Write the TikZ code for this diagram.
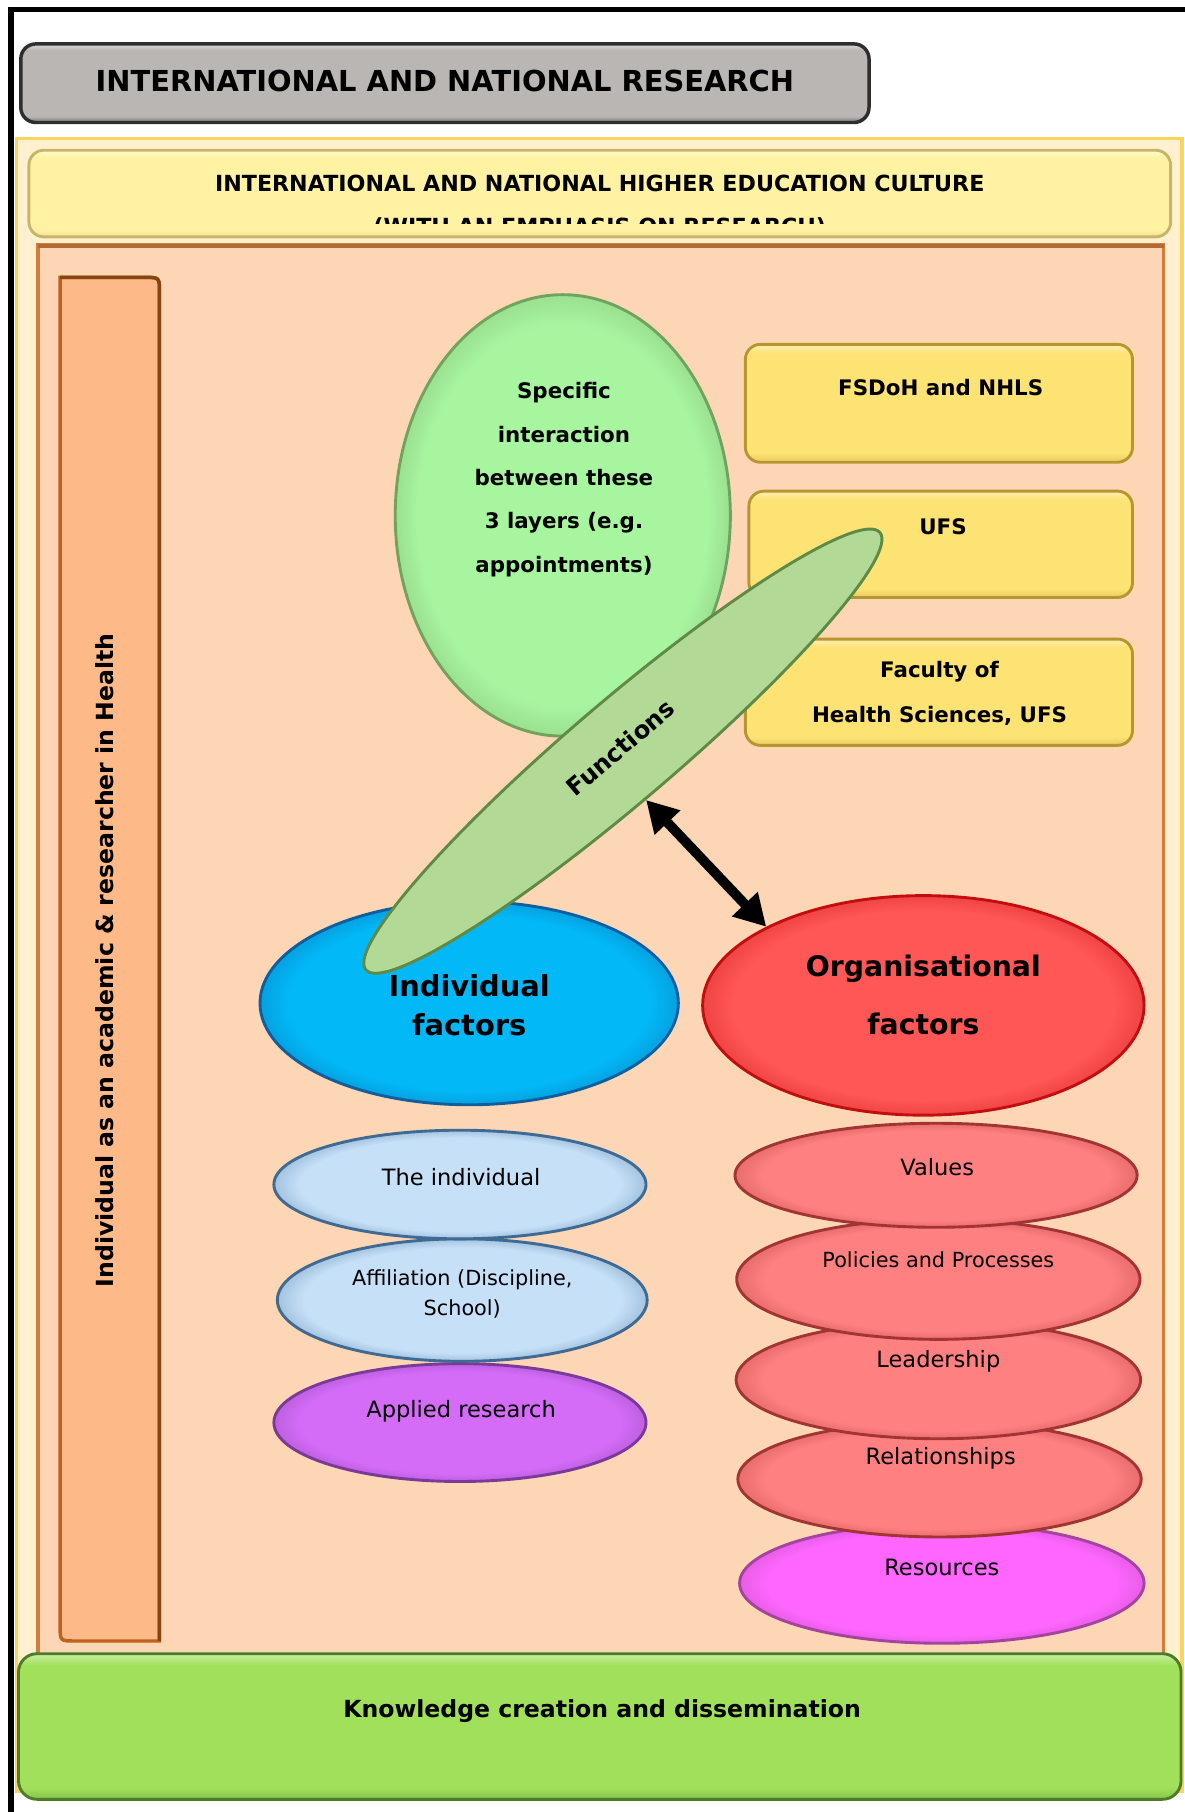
\documentclass[tikz,border=0pt]{standalone}
\usepackage{fontspec}
\setmainfont{DejaVu Sans}
\usetikzlibrary{shapes.geometric,arrows.meta}

\definecolor{graybox}{HTML}{B9B6B4}
\definecolor{grayedge}{HTML}{2E2E2E}
\definecolor{creamfill}{HTML}{FFF1CF}
\definecolor{creamedge}{HTML}{FAD45E}
\definecolor{headfill}{HTML}{FFF3A3}
\definecolor{headedge}{HTML}{C9B56A}
\definecolor{peachfill}{HTML}{FDD6B5}
\definecolor{peachedge}{HTML}{D47C3C}
\definecolor{barfill}{HTML}{FEB988}
\definecolor{baredge}{HTML}{C0621E}
\definecolor{boxfill}{HTML}{FDE274}
\definecolor{boxedge}{HTML}{B8962E}
\definecolor{mintfill}{HTML}{A8F5A0}
\definecolor{mintedge}{HTML}{6FA35E}
\definecolor{leaffill}{HTML}{B2D996}
\definecolor{leafedge}{HTML}{5F8A45}
\definecolor{bluefill}{HTML}{02B8F7}
\definecolor{blueedge}{HTML}{0F5E9E}
\definecolor{redfill}{HTML}{FF5656}
\definecolor{rededge}{HTML}{C20E0E}
\definecolor{skyfill}{HTML}{C6E0F8}
\definecolor{skyedge}{HTML}{3E6A93}
\definecolor{violetfill}{HTML}{D46CF8}
\definecolor{violetedge}{HTML}{7B3A99}
\definecolor{rosefill}{HTML}{FF8080}
\definecolor{roseedge}{HTML}{A33434}
\definecolor{pinkfill}{HTML}{FF66FF}
\definecolor{pinkedge}{HTML}{A3449F}
\definecolor{grassfill}{HTML}{A0E05A}
\definecolor{grassedge}{HTML}{4C7C2A}

% colours used by the bevel shadings; set per shape
\colorlet{bevelin}{white}
\colorlet{bevelout}{black}
\colorlet{bevelhi}{white}

% flat centre with a darker rim, for the ovals
\pgfdeclareradialshading[bevelin,bevelout]{ovalbevel}{\pgfpoint{0bp}{0bp}}%
  {color(0bp)=(bevelin); color(21.5bp)=(bevelin); color(25bp)=(bevelout); color(50bp)=(bevelout)}
% flat centre with a lighter top and darker bottom, for the plates
\pgfdeclareverticalshading[bevelin,bevelout,bevelhi]{platebevel}{100bp}%
  {color(0bp)=(bevelout); color(25bp)=(bevelout); color(29bp)=(bevelin);
   color(71bp)=(bevelin); color(75bp)=(bevelhi); color(100bp)=(bevelhi)}

\newcommand{\fs}[2]{\fontsize{#1}{#2}\selectfont}

\tikzset{
  ovalshade/.code 2 args={\colorlet{bevelin}{#1}\colorlet{bevelout}{#2}},
  plateshade/.code n args={3}{\colorlet{bevelin}{#1}\colorlet{bevelout}{#2}\colorlet{bevelhi}{#3}},
  plate/.style={rounded corners=13pt, line width=2.5pt, inner sep=0pt,
    shade, shading=platebevel},
  oval/.style={ellipse, inner sep=0pt, line width=2.5pt, shade, shading=ovalbevel},
  txt/.style={inner sep=0pt, align=center},
  boldtxt/.style={txt, font=\fs{18.5}{22}\bfseries},
  plaintxt/.style={txt, font=\fs{19.5}{26}},
  sky/.style={oval, draw=skyedge, ovalshade={skyfill}{skyfill!75!skyedge}},
  rose/.style={oval, draw=roseedge, ovalshade={rosefill}{rosefill!75!roseedge}},
  yellowplate/.style={plate, draw=boxedge, plateshade={boxfill}{boxfill!70!boxedge}{boxfill!55!white}},
  twoway/.style={line width=8.5pt,
    {Triangle[length=27pt,width=29pt]}-{Triangle[length=27pt,width=29pt]}},
}

\begin{document}
\begin{tikzpicture}[x=1pt,y=-1pt]
\useasboundingbox (0,0) rectangle (1025,1568);
\fill[white] (0,0) rectangle (1025,1568);

% outer frame
\draw[line width=4.5pt] (1025,8.5) -- (9.5,8.5) -- (9.5,1568);

% research banner
\node[plate, draw=grayedge, plateshade={graybox}{graybox!65!black}{graybox!50!white},
      line width=3pt, minimum width=734pt, minimum height=68pt] (research) at (385,72) {};
\node[txt, font=\fs{25}{30}\bfseries] (researchtext) at (385,70)
  {INTERNATIONAL AND NATIONAL RESEARCH};

% higher education culture layer
\draw[draw=creamedge, fill=creamfill, line width=3pt] (14.5,120) rectangle (1023,1550);
\node[plate, draw=headedge, plateshade={headfill}{headfill!70!headedge}{headfill!50!white},
      minimum width=988pt, minimum height=75pt] (culture) at (519,167.5) {};
\node[txt, anchor=base, font=\fs{19.2}{23}\bfseries] (culturetext) at (519,166)
  {INTERNATIONAL AND NATIONAL HIGHER EDUCATION CULTURE};
\begin{scope}
  \clip (30,130) rectangle (1010,193);
  \node[txt, anchor=base, font=\fs{19.2}{23}\bfseries] (emphasistext) at (519,202.5)
    {(WITH AN EMPHASIS ON RESEARCH)};
\end{scope}

% institutional layer
\draw[draw=peachedge, fill=peachfill, line width=3pt] (33,212) rectangle (1007,1440);
\draw[draw=peachedge!85!black, line width=4pt] (33,213) -- (1007,213);

% vertical bar: the individual
\draw[draw=baredge, fill=barfill, line width=3pt]
  (52,240) -- (125,240) .. controls (138,240) .. (138,253) -- (138,1420)
  -- (65,1420) .. controls (52,1420) .. (52,1407) -- cycle;
\draw[draw=baredge!70!black, line width=3pt]
  (52,240) -- (125,240) .. controls (138,240) .. (138,253) -- (138,1420);
\node[txt, rotate=90, font=\fs{20.4}{24}\bfseries] (roletext) at (91,831)
  {Individual as an academic \& researcher in Health};

% interaction between the layers
\node[oval, draw=mintedge, ovalshade={mintfill}{mintfill!75!mintedge}, minimum width=290pt,
      minimum height=382pt] (interaction) at (487,446) {};
\node[txt, font=\fs{18.5}{37.5}\bfseries] (interactiontext) at (488,415)
  {Specific\\interaction\\between these\\3 layers (e.g.\\appointments)};

% the three institutional layers
\node[yellowplate, minimum width=335pt, minimum height=102pt] (fsdoh) at (812.5,349) {};
\node[boldtxt] (fsdohtext) at (814,335) {FSDoH and NHLS};
\node[yellowplate, minimum width=332pt, minimum height=92pt] (ufs) at (814,471) {};
\node[boldtxt] (ufstext) at (816,456) {UFS};
\node[yellowplate, minimum width=335pt, minimum height=92pt] (faculty) at (812.5,599) {};
\node[txt, font=\fs{18.5}{39}\bfseries] (facultytext) at (813,600)
  {Faculty of\\Health Sciences, UFS};

% the two groups of factors
\node[oval, draw=blueedge, ovalshade={bluefill}{bluefill!75!blueedge}, minimum width=362pt,
      minimum height=176pt] (individual) at (406,868) {};
\node[txt, font=\fs{25}{34}\bfseries] (individualtext) at (406,870)
  {Individual\\factors};
\node[oval, draw=rededge, ovalshade={redfill}{redfill!75!rededge}, minimum width=382pt,
      minimum height=190pt] (organisational) at (799,870) {};
\node[txt, font=\fs{24.5}{50}\bfseries] (organisationaltext) at (799,861)
  {Organisational\\factors};

% functions: a long tilted oval with flat fill
\node[ellipse, inner sep=0pt, line width=2.5pt, draw=leafedge, fill=leaffill, rotate=40.4,
      minimum width=584pt, minimum height=88pt] (functions) at (539,650) {};
\node[txt, rotate=40.4, font=\fs{21}{25}\bfseries] (functionstext) at (537,647)
  {Functions};

\draw[twoway] (functions.255) -- (organisational.north west);

% individual factors stack
\node[oval, draw=violetedge, ovalshade={violetfill}{violetfill!75!violetedge},
      minimum width=322pt, minimum height=102pt] (applied) at (398,1231) {};
\node[plaintxt] (appliedtext) at (399,1221) {Applied research};
\node[sky, minimum width=320pt, minimum height=106pt] (affiliation) at (400,1125) {};
\node[txt, font=\fs{18}{26}] (affiliationtext) at (400,1120)
  {Affiliation (Discipline,\\School)};
\node[sky, minimum width=322pt, minimum height=94pt] (person) at (398,1025) {};
\node[plaintxt] (persontext) at (399,1019) {The individual};

% organisational factors stack
\node[oval, draw=pinkedge, ovalshade={pinkfill}{pinkfill!75!pinkedge},
      minimum width=350pt, minimum height=104pt] (resources) at (815,1370) {};
\node[plaintxt] (resourcestext) at (815,1356) {Resources};
\node[rose, minimum width=349pt, minimum height=100pt] (relationships) at (813,1280) {};
\node[plaintxt] (relationshipstext) at (814,1262) {Relationships};
\node[rose, minimum width=350pt, minimum height=102pt] (leadership) at (812,1194) {};
\node[plaintxt] (leadershiptext) at (812,1178) {Leadership};
\node[rose, minimum width=349pt, minimum height=104pt] (policies) at (812,1107) {};
\node[txt, font=\fs{18}{26}] (policiestext) at (812,1090) {Policies and Processes};
\node[rose, minimum width=348pt, minimum height=90pt] (values) at (810,1017) {};
\node[plaintxt] (valuestext) at (811,1010) {Values};

% knowledge creation
\node[plate, draw=grassedge, plateshade={grassfill}{grassfill!70!grassedge}{grassfill!55!white},
      rounded corners=16pt, minimum width=1006pt, minimum height=126pt] (knowledge) at (519,1494) {};
\node[txt, font=\fs{20.4}{24}\bfseries] (knowledgetext) at (521,1481)
  {Knowledge creation and dissemination};
\end{tikzpicture}
\end{document}
